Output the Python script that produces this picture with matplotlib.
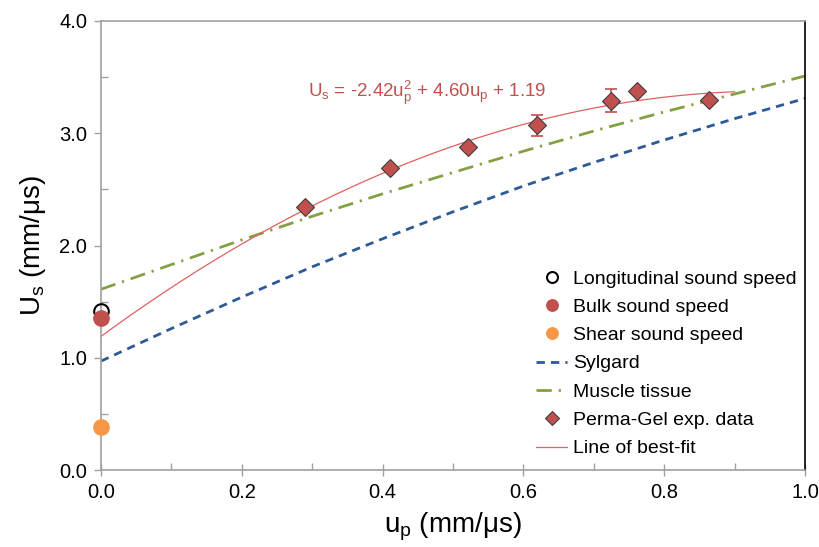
import numpy as np
import matplotlib
matplotlib.use('Agg')
import matplotlib.pyplot as plt
from matplotlib.ticker import MultipleLocator, FormatStrFormatter

plt.rcParams['font.family'] = ['Liberation Sans', 'DejaVu Sans']
plt.rcParams['mathtext.fontset'] = 'custom'
plt.rcParams['mathtext.rm'] = 'Liberation Sans'
plt.rcParams['mathtext.it'] = 'Liberation Sans:italic'

# sound speeds at up = 0
long_speed = 1.42
bulk_speed = 1.35
shear_speed = 0.38

# reference curves
curve_up = [0.0, 0.1, 0.2, 0.3, 0.4, 0.5, 0.6, 0.7, 0.8, 0.9, 1.0]
sylgard_us = [0.97, 1.26, 1.54, 1.81, 2.06, 2.30, 2.53, 2.74, 2.94, 3.13, 3.31]
muscle_us = [1.61, 1.83, 2.05, 2.26, 2.46, 2.65, 2.84, 3.02, 3.19, 3.35, 3.51]

# Perma-Gel experiments
gel_up = [0.29, 0.41, 0.522, 0.619, 0.724, 0.761, 0.864]
gel_us = [2.34, 2.69, 2.875, 3.07, 3.29, 3.38, 3.30]
gel_err = [0.0, 0.0, 0.0, 0.095, 0.10, 0.0, 0.0]

# best-fit coefficients (from the chart's equation)
fit_a, fit_b, fit_c = -2.42, 4.60, 1.19
fit_max = 0.90

red = '#C0504D'

fig = plt.figure(figsize=(8.19, 5.47), dpi=100)
ax = fig.add_axes([101/819, 1-470/547, 704/819, 449/547])

ax.plot(0, long_speed, 'o', mfc='none', mec='black', mew=1.5, ms=10.5,
        label='Longitudinal sound speed', clip_on=False, zorder=5)
ax.plot(0, bulk_speed, 'o', color=red, ms=11, label='Bulk sound speed',
        clip_on=False, zorder=6)
ax.plot(0, shear_speed, 'o', color='#F79646', ms=11, label='Shear sound speed',
        clip_on=False, zorder=6)

ax.plot(curve_up, sylgard_us, color='#2E5A96', lw=2.0, dashes=(3.0, 2.2),
        label='Sylgard')
ax.plot(curve_up, muscle_us, color='#84A044', lw=2.0, dashes=(5.5, 2.5, 0.8, 2.5),
        label='Muscle tissue')

ax.errorbar(gel_up, gel_us, yerr=gel_err, fmt='none', ecolor=red, elinewidth=1.2,
            capsize=4, capthick=1.2, zorder=3)
ax.plot(gel_up, gel_us, 'D', color=red, mec='#3F3F3F', mew=0.8, ms=9.5,
        linestyle='none', label='Perma-Gel exp. data', zorder=4)

xf = np.linspace(0, fit_max, 200)
ax.plot(xf, fit_a*xf**2 + fit_b*xf + fit_c, color='#E06060', lw=0.9,
        label='Line of best-fit', zorder=2)

ax.text(0.294, 3.36, r'U$_\mathrm{s}$ = -2.42u$_\mathrm{p}^\mathrm{2}$ + 4.60u$_\mathrm{p}$ + 1.19',
        color=red, fontsize=13.5, va='center', ha='left')

ax.set_xlim(0, 1.0)
ax.set_ylim(0, 4.0)
ax.xaxis.set_major_locator(MultipleLocator(0.2))
ax.xaxis.set_minor_locator(MultipleLocator(0.1))
ax.yaxis.set_major_locator(MultipleLocator(1.0))
ax.yaxis.set_minor_locator(MultipleLocator(0.5))
ax.xaxis.set_major_formatter(FormatStrFormatter('%.1f'))
ax.yaxis.set_major_formatter(FormatStrFormatter('%.1f'))
ax.tick_params(axis='x', which='major', direction='inout', length=9, width=1,
               color='#A0A0A0', labelsize=14.5, pad=5)
ax.tick_params(axis='y', which='major', direction='out', length=5, width=1,
               color='#A0A0A0', labelsize=14.5, pad=5)
ax.tick_params(which='minor', direction='in', length=5, width=1, color='#A0A0A0')

for s in ['left', 'bottom', 'top']:
    ax.spines[s].set_color('#A0A0A0')
    ax.spines[s].set_linewidth(1.2)
ax.spines['right'].set_color('black')
ax.spines['right'].set_linewidth(1.2)

ax.set_xlabel(r'u$_\mathrm{p}$ (mm/μs)', fontsize=20, labelpad=6)
ax.set_ylabel(r'U$_\mathrm{s}$ (mm/μs)', fontsize=20, labelpad=8)

ax.legend(loc='upper left', bbox_to_anchor=(0.607, 0.463), frameon=False,
          fontsize=14, handlelength=1.6, handletextpad=0.3, labelspacing=0.55,
          borderaxespad=0, markerscale=0.75)

fig.savefig('out.png', dpi=100)
